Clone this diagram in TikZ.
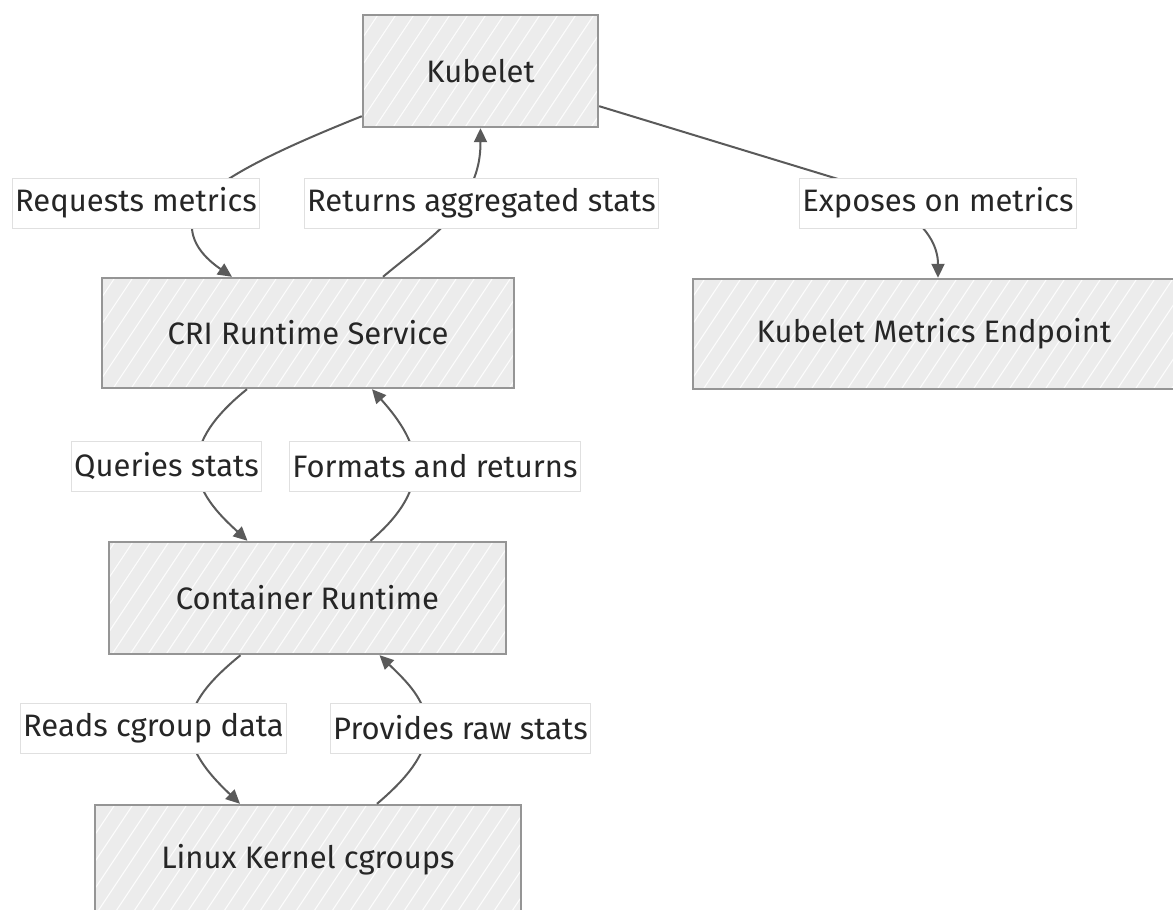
\documentclass[tikz,border=0pt]{standalone}
\usepackage{fontspec}
\setmainfont{Fira Sans}
\usetikzlibrary{calc,arrows.meta}
\definecolor{boxfill}{HTML}{ECECEC}
\definecolor{boxline}{HTML}{959595}
\definecolor{edgecol}{HTML}{5A5A5A}
\definecolor{lblline}{HTML}{E0E0E0}
\tikzset{
  box/.style={draw=boxline, line width=2.4pt, fill=boxfill,
    font=\fontsize{31}{36}\selectfont, text=black!85, inner sep=0pt,
    path picture={
      \foreach \k in {-40,...,40} {
        \draw[white, line width=1.1pt, opacity=0.85]
          ($(path picture bounding box.center)+(\k*18,60)$) -- ++(80,-120);
      }
    }},
  lbl/.style={fill=white, draw=lblline, line width=0.8pt,
    font=\fontsize{31}{36}\selectfont, text=black!85,
    inner xsep=3pt, inner ysep=0pt, minimum height=50pt},
  conn/.style={draw=edgecol, line width=2pt},
  arr/.style={conn, -{Triangle[length=14pt,width=13pt]}}
}
\begin{document}
\begin{tikzpicture}[x=1pt,y=-1pt]
\useasboundingbox (0,0) rectangle (1173,910);
% boxes
\node[box, minimum width=235pt, minimum height=112pt] (kub) at (480.5,71) {Kubelet};
\node[box, minimum width=412pt, minimum height=110pt] (cri) at (308,333) {CRI Runtime Service};
\node[box, minimum width=482pt, minimum height=110pt] (kme) at (934,334) {Kubelet Metrics Endpoint};
\node[box, minimum width=397pt, minimum height=112pt] (crt) at (307.5,598) {Container Runtime};
\node[box, minimum width=426pt, minimum height=110pt] (lkc) at (308,860) {Linux Kernel cgroups};
% connectors
\draw[arr] ($(kub.south west)+(0,-12)$) .. controls (290,145) and (210,180) .. (195,210)
   .. controls (185,235) and (200,255) .. ($(cri.north)+(-76,0)$);
\draw[arr] ($(cri.north)+(75,0)$) .. controls (415,250) and (445,230) .. (462,203)
   .. controls (475,180) and (480.5,165) .. (kub.south);
\draw[arr] ($(kub.south east)+(0,-22)$) -- (838,179)
   .. controls (900,200) and (938,230) .. ($(kme.north)+(4,0)$);
\draw[arr] ($(cri.south)+(-61,0)$) .. controls (215,415) and (197,440) .. (197,466)
   .. controls (197,495) and (225,520) .. ($(crt.north)+(-60,0)$);
\draw[arr] ($(crt.north)+(63,0)$) .. controls (395,520) and (415,495) .. (415,466)
   .. controls (415,440) and (395,415) .. ($(cri.south)+(64,0)$);
\draw[arr] ($(crt.south)+(-67,0)$) .. controls (210,680) and (190,703) .. (190,728)
   .. controls (190,755) and (215,780) .. ($(lkc.north)+(-68,0)$);
\draw[arr] ($(lkc.north)+(69,0)$) .. controls (405,780) and (427,755) .. (427,728)
   .. controls (427,700) and (405,680) .. ($(crt.south)+(72,0)$);
% labels
\node[lbl] (lreq) at (136,203) {Requests metrics};
\node[lbl] (lret) at (481.5,203) {Returns aggregated stats};
\node[lbl] (lexp) at (938,203) {Exposes on metrics};
\node[lbl] (lqry) at (166.5,466) {Queries stats};
\node[lbl] (lfmt) at (435,466) {Formats and returns};
\node[lbl] (lrd) at (153.5,728) {Reads cgroup data};
\node[lbl] (lprv) at (460.5,728) {Provides raw stats};
\end{tikzpicture}
\end{document}
